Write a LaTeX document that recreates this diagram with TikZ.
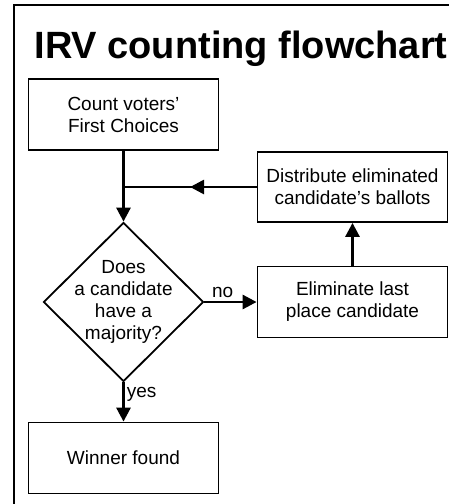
\documentclass[tikz,border=0pt]{standalone}
\usepackage{fontspec}
\setmainfont{Liberation Sans}
\usetikzlibrary{shapes.geometric, arrows.meta, positioning, calc, decorations.markings}

\begin{document}
\begin{tikzpicture}[
			x=1pt, y=-1pt,
			font=\fontsize{19}{22}\selectfont,
			stepbox/.style={rectangle, draw=black, line width=1.8pt, minimum width=190pt, minimum height=71pt, align=center, inner sep=0pt},
			decision/.style={diamond, draw=black, line width=1.8pt, minimum width=160pt, minimum height=159pt, inner sep=0pt},
			arrow/.style={-{Triangle[length=14pt, width=14pt]}, line width=2.8pt, draw=black},
			midarrow/.style={line width=2.8pt, draw=black, decoration={markings, mark=at position 0.5 with {\arrow{Triangle[length=14pt, width=14pt]}}}, postaction={decorate}}
			]
			\useasboundingbox (0,0) rectangle (449,504);
			
			% Frame and title
			\draw[line width=2pt] (14,504) -- (14,5) -- (449,5);
			\node[font=\fontsize{38}{40}\selectfont\bfseries, anchor=base] (title) at (241,58) {IRV counting flowchart};
			
			% Steps
			\node[stepbox] (count) at (123.5,114.5) {Count voters'\\First Choices};
			\node[decision] (major) at (123.5,302) {};
			\node[align=center] (majtext) at (major.center) {Does\\a candidate\\have a\\majority?};
			\node[stepbox] (elim) at (352.5,302) {Eliminate last\\place candidate};
			\node[stepbox, minimum height=70pt] (dist) at (352.5,187) {Distribute eliminated\\candidate's ballots};
			\node[stepbox] (winner) at (123.5,458) {Winner found};
			
			% Connectors
			\coordinate (join) at (count.south |- dist.west);
			\draw[arrow] (count.south) -- (major.north);
			\draw[midarrow] (dist.west) -- (join);
			\draw[arrow] (major.east) -- node[above, pos=0.35] (no) {no} (elim.west);
			\draw[arrow] (elim.north) -- (dist.south);
			\draw[arrow] (major.south) -- node[right, pos=0.3, inner sep=2pt] (yes) {yes} (winner.north);
			
		\end{tikzpicture}
\end{document}
